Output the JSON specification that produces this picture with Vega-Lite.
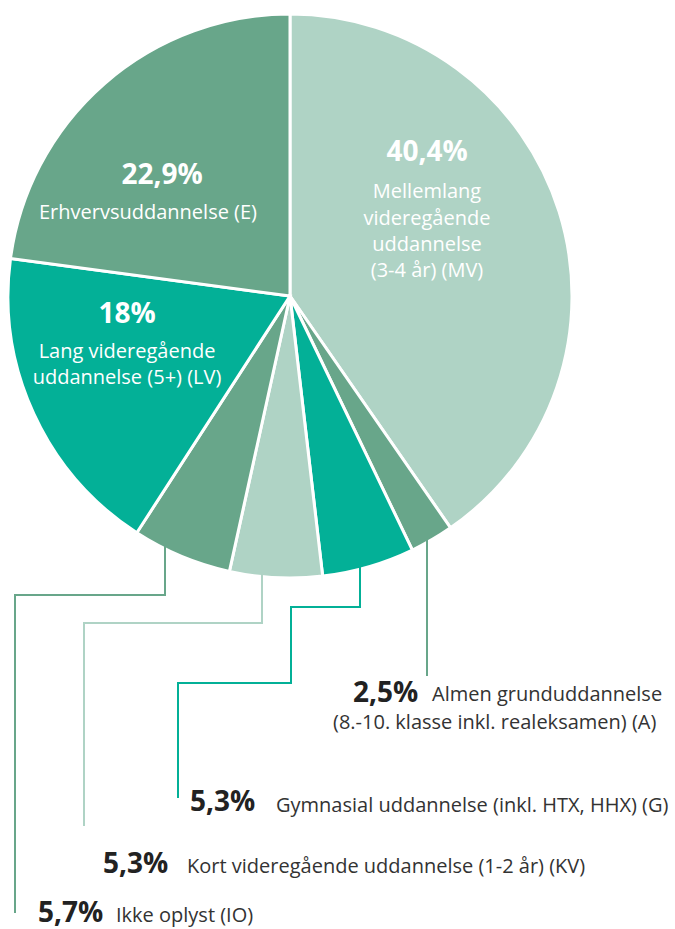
{
  "$schema": "https://vega.github.io/schema/vega-lite/v6.json",
  "width": 675,
  "height": 929,
  "autosize": {"type": "none"},
  "padding": 0,
  "background": "white",
  "config": {"view": {"stroke": null}, "font": "Open Sans"},
  "datasets": {
    "slices": [
      {"category": "MV", "value": 40.4, "order": 1, "cx": 290, "cy": 296},
      {"category": "A", "value": 2.5, "order": 2, "cx": 290, "cy": 296},
      {"category": "G", "value": 5.3, "order": 3, "cx": 290, "cy": 296},
      {"category": "KV", "value": 5.3, "order": 4, "cx": 290, "cy": 296},
      {"category": "IO", "value": 5.7, "order": 5, "cx": 290, "cy": 296},
      {"category": "LV", "value": 18.0, "order": 6, "cx": 290, "cy": 296},
      {"category": "E", "value": 22.9, "order": 7, "cx": 290, "cy": 296}
    ],
    "leaders": [
      {"category": "A", "seq": 1, "x": 427, "y": 540},
      {"category": "A", "seq": 2, "x": 427, "y": 675},
      {"category": "G", "seq": 1, "x": 360, "y": 566},
      {"category": "G", "seq": 2, "x": 360, "y": 607},
      {"category": "G", "seq": 3, "x": 291, "y": 607},
      {"category": "G", "seq": 4, "x": 291, "y": 683},
      {"category": "G", "seq": 5, "x": 178, "y": 683},
      {"category": "G", "seq": 6, "x": 178, "y": 797},
      {"category": "KV", "seq": 1, "x": 262, "y": 575},
      {"category": "KV", "seq": 2, "x": 262, "y": 623},
      {"category": "KV", "seq": 3, "x": 84, "y": 623},
      {"category": "KV", "seq": 4, "x": 84, "y": 825},
      {"category": "IO", "seq": 1, "x": 165, "y": 545},
      {"category": "IO", "seq": 2, "x": 165, "y": 595},
      {"category": "IO", "seq": 3, "x": 15, "y": 595},
      {"category": "IO", "seq": 4, "x": 15, "y": 912}
    ],
    "inPct": [
      {"x": 427, "y": 153, "text": "40,4%"},
      {"x": 162, "y": 176, "text": "22,9%"},
      {"x": 127, "y": 315, "text": "18%"}
    ],
    "inDesc": [
      {"x": 427, "y": 192, "text": "Mellemlang"},
      {"x": 427, "y": 219, "text": "videregående"},
      {"x": 427, "y": 245, "text": "uddannelse"},
      {"x": 427, "y": 271, "text": "(3-4 år) (MV)"},
      {"x": 148, "y": 213, "text": "Erhvervsuddannelse (E)"},
      {"x": 127, "y": 352, "text": "Lang videregående"},
      {"x": 127, "y": 378, "text": "uddannelse (5+) (LV)"}
    ],
    "outPct": [
      {"x": 353, "y": 694, "text": "2,5%"},
      {"x": 190, "y": 803, "text": "5,3%"},
      {"x": 103, "y": 865, "text": "5,3%"},
      {"x": 38, "y": 914, "text": "5,7%"}
    ],
    "outDesc": [
      {"x": 432, "y": 695, "text": "Almen grunduddannelse"},
      {"x": 333, "y": 723, "text": "(8.-10. klasse inkl. realeksamen) (A)"},
      {"x": 276, "y": 806, "text": "Gymnasial uddannelse (inkl. HTX, HHX) (G)"},
      {"x": 187, "y": 867, "text": "Kort videregående uddannelse (1-2 år) (KV)"},
      {"x": 116, "y": 916, "text": "Ikke oplyst (IO)"}
    ]
  },
  "layer": [
    {
      "data": {"name": "slices"},
      "mark": {"type": "arc", "outerRadius": 282, "stroke": "white", "strokeWidth": 3},
      "encoding": {
        "theta": {"field": "value", "type": "quantitative", "stack": true},
        "order": {"field": "order", "type": "quantitative"},
        "x": {"field": "cx", "type": "quantitative", "scale": {"domain": [0, 675], "nice": false, "zero": false}, "axis": null},
        "y": {"field": "cy", "type": "quantitative", "scale": {"domain": [0, 929], "nice": false, "zero": false, "reverse": true}, "axis": null},
        "color": {
          "field": "category", "type": "nominal",
          "scale": {"domain": ["MV", "A", "G", "KV", "IO", "LV", "E"],
                    "range": ["#afd3c5", "#68a68a", "#03b097", "#afd3c5", "#68a68a", "#03b097", "#68a68a"]},
          "legend": null
        }
      }
    },
    {
      "data": {"name": "leaders"},
      "mark": {"type": "line", "strokeWidth": 2, "strokeCap": "square", "strokeJoin": "miter"},
      "encoding": {
        "x": {"field": "x", "type": "quantitative"},
        "y": {"field": "y", "type": "quantitative"},
        "order": {"field": "seq", "type": "quantitative"},
        "detail": {"field": "category", "type": "nominal"},
        "color": {"field": "category", "type": "nominal", "legend": null}
      }
    },
    {
      "data": {"name": "inPct"},
      "mark": {"type": "text", "color": "white", "fontSize": 28, "fontWeight": "bold", "align": "center", "baseline": "middle"},
      "encoding": {
        "x": {"field": "x", "type": "quantitative"},
        "y": {"field": "y", "type": "quantitative"},
        "text": {"field": "text"}
      }
    },
    {
      "data": {"name": "inDesc"},
      "mark": {"type": "text", "color": "white", "fontSize": 20, "align": "center", "baseline": "middle"},
      "encoding": {
        "x": {"field": "x", "type": "quantitative"},
        "y": {"field": "y", "type": "quantitative"},
        "text": {"field": "text"}
      }
    },
    {
      "data": {"name": "outPct"},
      "mark": {"type": "text", "color": "#222222", "fontSize": 28, "fontWeight": "bold", "align": "left", "baseline": "middle"},
      "encoding": {
        "x": {"field": "x", "type": "quantitative"},
        "y": {"field": "y", "type": "quantitative"},
        "text": {"field": "text"}
      }
    },
    {
      "data": {"name": "outDesc"},
      "mark": {"type": "text", "color": "#333333", "fontSize": 20, "align": "left", "baseline": "middle"},
      "encoding": {
        "x": {"field": "x", "type": "quantitative"},
        "y": {"field": "y", "type": "quantitative"},
        "text": {"field": "text"}
      }
    }
  ]
}
